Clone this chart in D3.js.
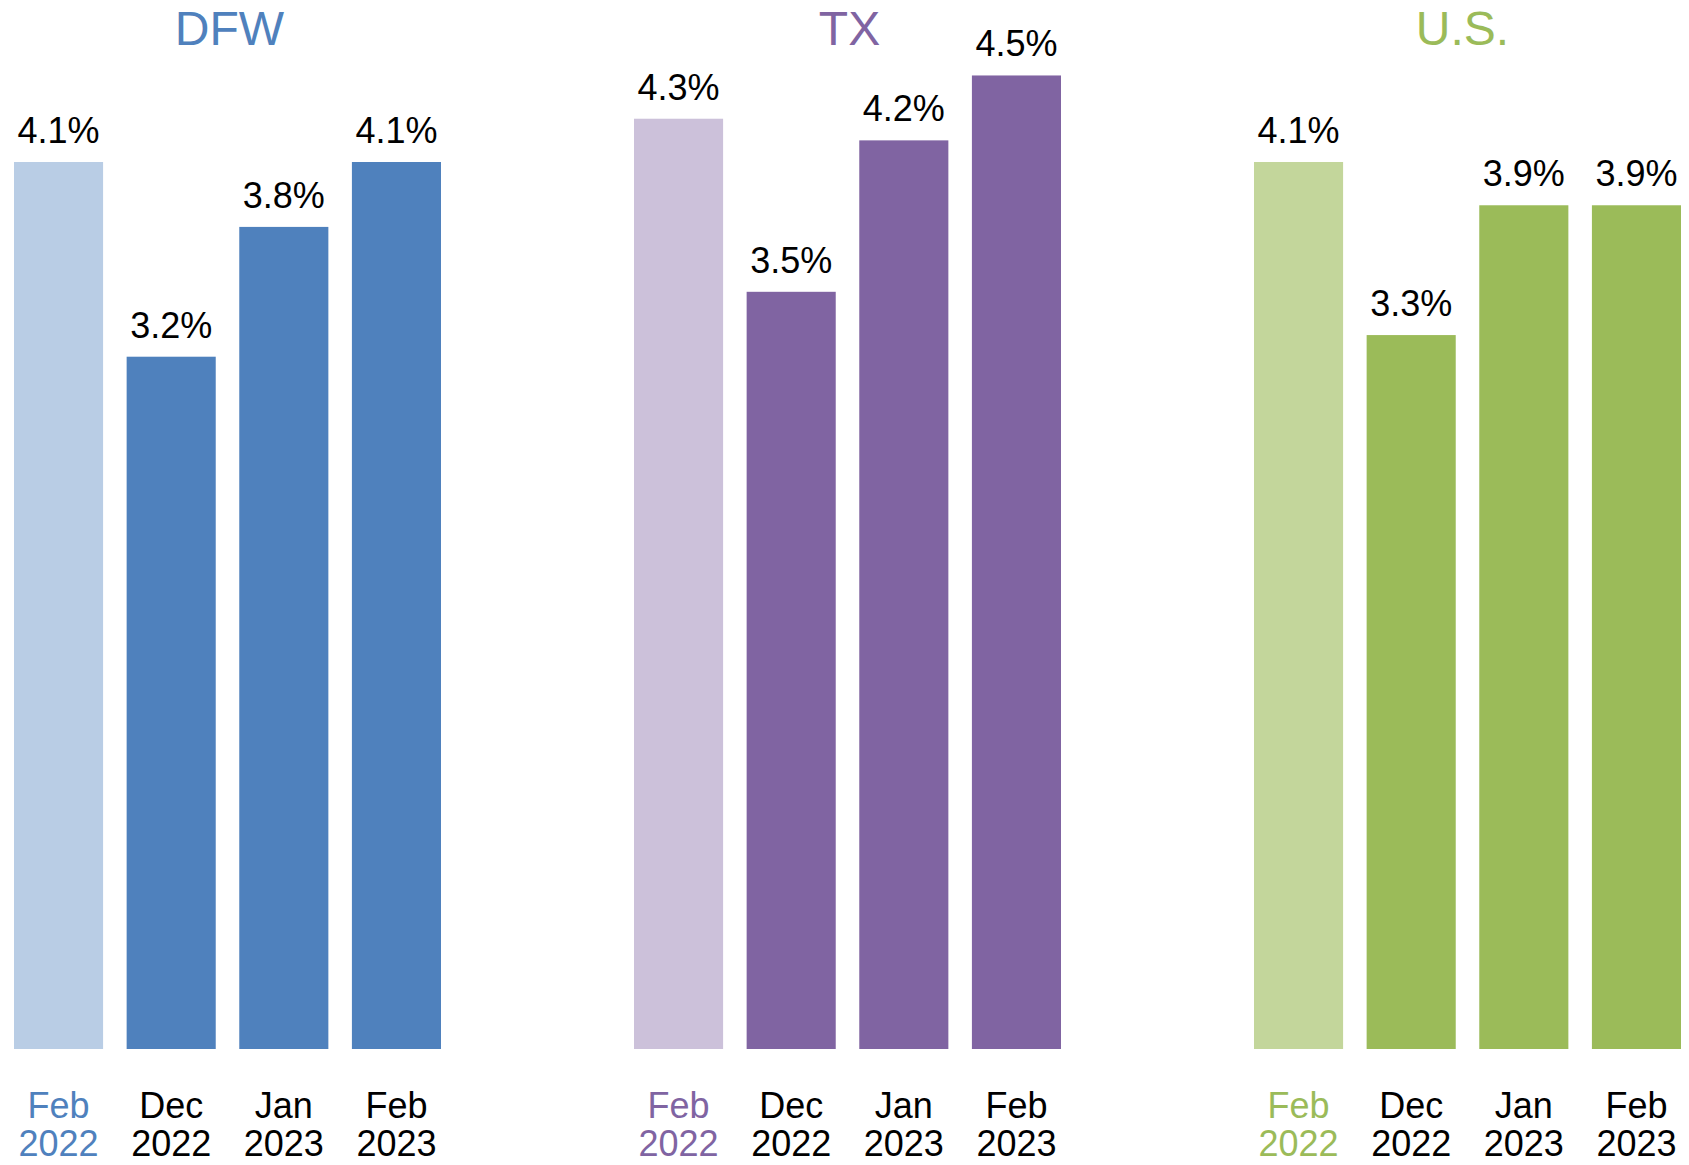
<!DOCTYPE html>
<html>
<head>
<meta charset="utf-8">
<script src="https://cdn.jsdelivr.net/npm/d3@7"></script>
<style>
  html, body { margin: 0; padding: 0; background: #fff; }
  svg { display: block; font-family: "Liberation Sans", Arial, sans-serif; }
</style>
</head>
<body>
<svg id="chart" width="1689" height="1165"></svg>
<script>
// ---- data ----
const regions = ["DFW", "TX", "U.S."];
const periods = ["Feb 2022", "Dec 2022", "Jan 2023", "Feb 2023"];
const dfwValues = [4.1, 3.2, 3.8, 4.1];
const txValues  = [4.3, 3.5, 4.2, 4.5];
const usValues  = [4.1, 3.3, 3.9, 3.9];
const darkColors  = ["#4F81BD", "#8064A2", "#9BBB59"];
const lightColors = ["#B9CDE5", "#CCC1DA", "#C3D69B"];

const seriesByRegion = [dfwValues, txValues, usValues];

const svg = d3.select("#chart");

// shared y scale
const y = d3.scaleLinear().domain([0, 4.1]).range([1049, 162]);

// panel positions
const panels = d3.scaleBand().domain(regions).range([14, 14 + 3 * 620]).paddingInner(0);

regions.forEach((region, ri) => {
  const x0 = panels(region);
  const x = d3.scaleBand()
    .domain(periods)
    .range([x0, x0 + 427])
    .paddingInner(0.209)
    .paddingOuter(0);
  const vals = seriesByRegion[ri];
  const data = periods.map((p, i) => ({ p, v: vals[i], i }));
  const g = svg.append("g");

  g.selectAll("rect")
    .data(data)
    .join("rect")
    .attr("x", d => x(d.p))
    .attr("y", d => y(d.v))
    .attr("width", x.bandwidth())
    .attr("height", d => y(0) - y(d.v))
    .attr("fill", d => d.i === 0 ? lightColors[ri] : darkColors[ri]);

  g.selectAll("text.val")
    .data(data)
    .join("text")
    .attr("class", "val")
    .attr("x", d => x(d.p) + x.bandwidth() / 2)
    .attr("y", d => y(d.v) - 19)
    .attr("text-anchor", "middle")
    .attr("font-size", 36)
    .attr("fill", "#000")
    .text(d => d.v.toFixed(1) + "%");

  // title
  g.append("text")
    .attr("x", x0 + 427 / 2 + (ri === 2 ? -5 : 2))
    .attr("y", 45)
    .attr("text-anchor", "middle")
    .attr("font-size", 48)
    .attr("fill", darkColors[ri])
    .text(region);

  // category labels (two lines)
  const lab = g.selectAll("text.cat")
    .data(data)
    .join("text")
    .attr("class", "cat")
    .attr("x", d => x(d.p) + x.bandwidth() / 2)
    .attr("y", 1118)
    .attr("text-anchor", "middle")
    .attr("font-size", 36)
    .attr("fill", d => d.i === 0 ? darkColors[ri] : "#000");
  lab.each(function(d) {
    const parts = d.p.split(" ");
    const t = d3.select(this);
    t.append("tspan").attr("x", x(d.p) + x.bandwidth() / 2).attr("dy", 0).text(parts[0]);
    t.append("tspan").attr("x", x(d.p) + x.bandwidth() / 2).attr("dy", 38).text(parts[1]);
  });
});
</script>
</body>
</html>
